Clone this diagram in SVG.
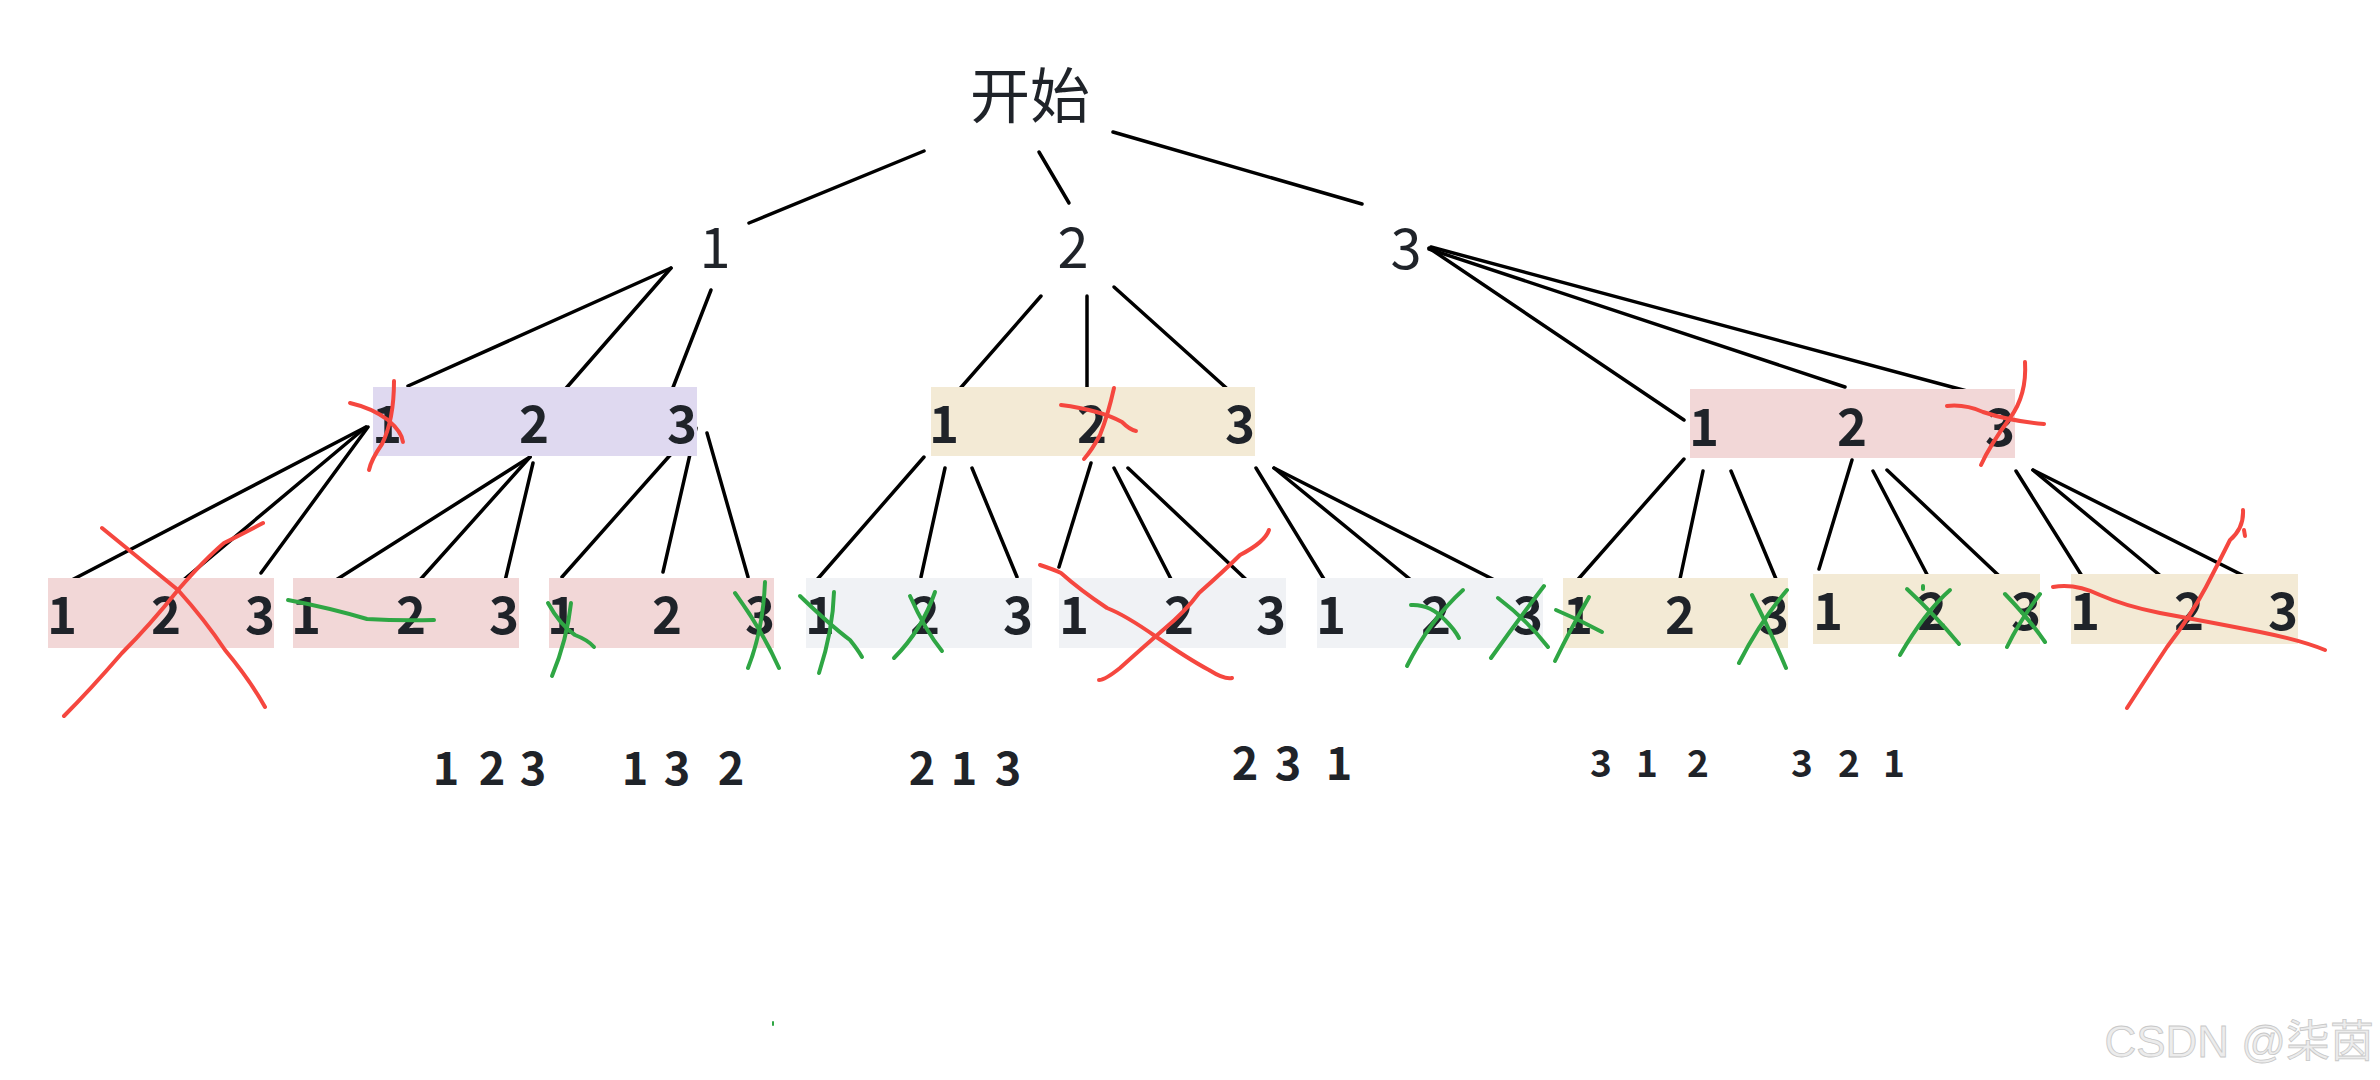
<svg xmlns="http://www.w3.org/2000/svg" width="2380" height="1080" viewBox="0 0 2380 1080">
<style>
.bg{fill:#ffffff}
.t{font-family:"Noto Sans CJK SC","Noto Sans",sans-serif;fill:#1f2329;text-anchor:middle}
.t0{font-size:60px;font-weight:400}
.t1{font-size:56px;font-weight:400}
.tb{font-size:51px;font-weight:700}
.tr{font-size:45px;font-weight:700}
.ts{font-size:37px;font-weight:700}
.purple{fill:#dfd9f0}
.beige{fill:#f3ead5}
.pink{fill:#f2d7d7}
.gray{fill:#f0f2f5}
.ln{stroke:#000;stroke-width:3.5;stroke-linecap:round;fill:none}
.red{stroke:#f5473f;stroke-width:4;stroke-linecap:round;stroke-linejoin:round;fill:none}
.grn{stroke:#2fa644;stroke-width:4;stroke-linecap:round;stroke-linejoin:round;fill:none}
.wm{font-family:"Liberation Sans","Noto Sans CJK SC",sans-serif;font-size:44px;fill:#ececec;stroke:#c8c8c8;stroke-width:0.8;text-anchor:end}
</style>
<rect class="bg" x="0" y="0" width="2380" height="1080"/>

<g id="connectors">
  <line class="ln" x1="924" y1="151" x2="749" y2="223"/>
  <line class="ln" x1="1039" y1="152" x2="1069" y2="203"/>
  <line class="ln" x1="1113" y1="132" x2="1362" y2="204"/>

  <line class="ln" x1="671" y1="268" x2="408" y2="386"/>
  <line class="ln" x1="671" y1="268" x2="561" y2="394"/>
  <line class="ln" x1="711" y1="290" x2="672" y2="390"/>

  <line class="ln" x1="1041" y1="296" x2="936" y2="416"/>
  <line class="ln" x1="1087" y1="296" x2="1087" y2="393"/>
  <line class="ln" x1="1114" y1="287" x2="1233" y2="394"/>

  <line class="ln" x1="1429" y1="248" x2="1684" y2="420"/>
  <line class="ln" x1="1429" y1="249" x2="1845" y2="387"/>
  <line class="ln" x1="1431" y1="247" x2="1978" y2="394"/>

  <line class="ln" x1="366" y1="427" x2="66" y2="583"/>
  <line class="ln" x1="366" y1="427" x2="181" y2="582"/>
  <line class="ln" x1="368" y1="427" x2="261" y2="573"/>

  <line class="ln" x1="530" y1="457" x2="317" y2="592"/>
  <line class="ln" x1="530" y1="457" x2="419" y2="581"/>
  <line class="ln" x1="533" y1="463" x2="505" y2="581"/>

  <line class="ln" x1="672" y1="453" x2="562" y2="577"/>
  <line class="ln" x1="696" y1="428" x2="663" y2="572"/>
  <line class="ln" x1="707" y1="433" x2="748" y2="577"/>

  <line class="ln" x1="924" y1="457" x2="815" y2="582"/>
  <line class="ln" x1="945" y1="468" x2="921" y2="577"/>
  <line class="ln" x1="972" y1="468" x2="1017" y2="577"/>

  <line class="ln" x1="1091" y1="463" x2="1059" y2="567"/>
  <line class="ln" x1="1114" y1="468" x2="1172" y2="581"/>
  <line class="ln" x1="1128" y1="468" x2="1254" y2="587"/>

  <line class="ln" x1="1256" y1="468" x2="1330" y2="589"/>
  <line class="ln" x1="1274" y1="468" x2="1422" y2="589"/>
  <line class="ln" x1="1274" y1="468" x2="1520" y2="593"/>

  <line class="ln" x1="1684" y1="459" x2="1574" y2="584"/>
  <line class="ln" x1="1703" y1="471" x2="1680" y2="579"/>
  <line class="ln" x1="1731" y1="471" x2="1776" y2="579"/>

  <line class="ln" x1="1852" y1="460" x2="1819" y2="569"/>
  <line class="ln" x1="1873" y1="471" x2="1932" y2="584"/>
  <line class="ln" x1="1887" y1="470" x2="2013" y2="589"/>

  <line class="ln" x1="2016" y1="471" x2="2092" y2="592"/>
  <line class="ln" x1="2033" y1="470" x2="2180" y2="592"/>
  <line class="ln" x1="2033" y1="470" x2="2280" y2="594"/>
</g>

<g id="root"><text class="t t0" x="1030" y="118">开始</text></g>
<g id="n1"><text class="t t1" x="715" y="268">1</text></g>
<g id="n2"><text class="t t1" x="1073" y="268">2</text></g>
<g id="n3"><text class="t t1" x="1406" y="269">3</text></g>

<g id="n1-children">
  <rect class="purple" x="373" y="387" width="324" height="69"/>
  <text class="t tb" x="387" y="443">1</text>
  <text class="t tb" x="534" y="443">2</text>
  <text class="t tb" x="682" y="443">3</text>
</g>
<g id="n2-children">
  <rect class="beige" x="931" y="387" width="324" height="69"/>
  <text class="t tb" x="944" y="443">1</text>
  <text class="t tb" x="1092" y="443">2</text>
  <text class="t tb" x="1240" y="443">3</text>
</g>
<g id="n3-children">
  <rect class="pink" x="1690" y="389" width="325" height="69"/>
  <text class="t tb" x="1704" y="446">1</text>
  <text class="t tb" x="1852" y="446">2</text>
  <text class="t tb" x="2000" y="446">3</text>
</g>

<g id="leaf1">
  <rect class="pink" x="48" y="578" width="226" height="70"/>
  <text class="t tb" x="62" y="634">1</text><text class="t tb" x="166" y="634">2</text><text class="t tb" x="260" y="634">3</text>
</g>
<g id="leaf2">
  <rect class="pink" x="293" y="578" width="226" height="70"/>
  <text class="t tb" x="306" y="634">1</text><text class="t tb" x="411" y="634">2</text><text class="t tb" x="504" y="634">3</text>
</g>
<g id="leaf3">
  <rect class="pink" x="549" y="578" width="225" height="70"/>
  <text class="t tb" x="562" y="634">1</text><text class="t tb" x="667" y="634">2</text><text class="t tb" x="760" y="634">3</text>
</g>
<g id="leaf4">
  <rect class="gray" x="806" y="578" width="226" height="70"/>
  <text class="t tb" x="820" y="634">1</text><text class="t tb" x="925" y="634">2</text><text class="t tb" x="1018" y="634">3</text>
</g>
<g id="leaf5">
  <rect class="gray" x="1059" y="578" width="227" height="70"/>
  <text class="t tb" x="1074" y="634">1</text><text class="t tb" x="1179" y="634">2</text><text class="t tb" x="1271" y="634">3</text>
</g>
<g id="leaf6">
  <rect class="gray" x="1317" y="578" width="226" height="70"/>
  <text class="t tb" x="1331" y="634">1</text><text class="t tb" x="1436" y="634">2</text><text class="t tb" x="1528" y="634">3</text>
</g>
<g id="leaf7">
  <rect class="beige" x="1563" y="578" width="225" height="70"/>
  <text class="t tb" x="1578" y="634">1</text><text class="t tb" x="1680" y="634">2</text><text class="t tb" x="1774" y="634">3</text>
</g>
<g id="leaf8">
  <rect class="beige" x="1813" y="574" width="227" height="70"/>
  <text class="t tb" x="1828" y="630">1</text><text class="t tb" x="1932" y="630">2</text><text class="t tb" x="2026" y="630">3</text>
</g>
<g id="leaf9">
  <rect class="beige" x="2071" y="574" width="227" height="70"/>
  <text class="t tb" x="2085" y="630">1</text><text class="t tb" x="2189" y="630">2</text><text class="t tb" x="2283" y="630">3</text>
</g>

<g id="results">
  <text class="t tr" x="446 469 492 512 533" y="785">1 2 3</text>
  <text class="t tr" x="635 656 677 704 731" y="785">1 3 2</text>
  <text class="t tr" x="922 943 964 986 1008" y="785">2 1 3</text>
  <text class="t tr" x="1245 1266 1288 1313 1339" y="780">2 3 1</text>
  <text class="t ts" x="1601 1624 1647 1672 1698" y="777">3 1 2</text>
  <text class="t ts" x="1802 1825 1849 1871 1894" y="777">3 2 1</text>
</g>

<g id="marks">
  <path class="red" d="M394,381 Q394,420 382,444 Q371,460 369,470"/>
  <path class="red" d="M350,403 Q372,408 388,420 Q402,432 403,442"/>
  <path class="red" d="M1061,405 Q1100,410 1122,422 Q1130,430 1136,431"/>
  <path class="red" d="M1114,388 Q1108,415 1100,435 Q1092,450 1084,459"/>
  <path class="red" d="M2025,362 Q2027,395 2010,418 Q1990,445 1981,465"/>
  <path class="red" d="M1947,406 Q1965,404 1983,412 Q2010,421 2044,424"/>
  <path class="red" d="M102,528 L178,590 Q205,620 225,650 Q250,680 265,707"/>
  <path class="red" d="M263,523 Q240,535 224,543 Q204,560 178,590 Q150,625 122,653 Q90,690 64,716"/>
  <path class="red" d="M1040,565 Q1055,570 1061,573 Q1080,590 1107,608 Q1125,615 1155,636 Q1190,660 1209,670 Q1225,680 1232,678"/>
  <path class="red" d="M1269,530 Q1265,542 1240,555 Q1225,570 1199,593 Q1185,612 1163,630 Q1140,650 1120,668 Q1105,680 1099,680"/>
  <path class="red" d="M2053,587 Q2075,583 2100,595 Q2125,606 2160,613 Q2220,624 2260,632 Q2300,640 2325,650"/>
  <path class="red" d="M2243,510 Q2244,528 2230,540 Q2220,560 2206,587 Q2190,617 2167,647 Q2145,680 2127,708"/>
  <path class="red" d="M2244,530 L2245,536"/>

  <path class="grn" d="M288,600 Q330,608 367,619 Q400,621 434,620"/>
  <path class="grn" d="M571,603 Q567,640 552,676"/>
  <path class="grn" d="M548,603 Q560,625 575,635 Q588,640 594,647"/>
  <path class="grn" d="M765,582 Q763,630 748,668"/>
  <path class="grn" d="M735,593 Q762,630 779,668"/>
  <path class="grn" d="M834,592 Q833,630 819,673"/>
  <path class="grn" d="M800,596 Q830,625 850,640 Q858,650 862,657"/>
  <path class="grn" d="M935,592 Q922,630 894,658"/>
  <path class="grn" d="M910,596 Q925,630 942,651"/>
  <path class="grn" d="M1463,590 Q1430,620 1407,666"/>
  <path class="grn" d="M1411,605 Q1430,604 1445,620 Q1455,630 1459,638"/>
  <path class="grn" d="M1544,586 Q1518,620 1491,658"/>
  <path class="grn" d="M1498,598 Q1527,620 1548,647"/>
  <path class="grn" d="M1589,597 Q1570,630 1555,661"/>
  <path class="grn" d="M1556,610 Q1580,620 1602,632"/>
  <path class="grn" d="M1787,590 Q1760,622 1739,663"/>
  <path class="grn" d="M1752,595 Q1770,630 1786,668"/>
  <path class="grn" d="M1950,590 Q1925,612 1900,655"/>
  <path class="grn" d="M1907,589 Q1935,615 1959,644"/>
  <path class="grn" d="M1923,586 L1923,589"/>
  <path class="grn" d="M2040,594 Q2020,620 2007,647"/>
  <path class="grn" d="M2005,594 Q2030,620 2045,642"/>
  <path class="grn" d="M773,1022 L773,1025" style="stroke-width:2"/>
</g>

<g id="watermark"><text class="wm" x="2374" y="1057">CSDN @柒茵</text></g>
</svg>
